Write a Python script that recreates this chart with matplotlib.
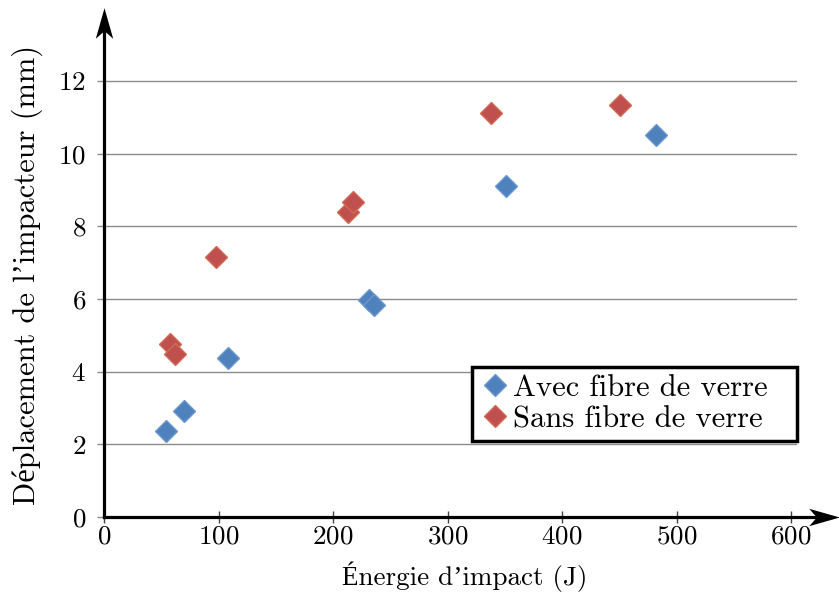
import matplotlib
matplotlib.use('Agg')
import matplotlib.pyplot as plt
from matplotlib.path import Path

avec_x = [54, 70, 108, 231, 236, 351, 482]
avec_y = [2.37, 2.92, 4.38, 5.97, 5.84, 9.11, 10.51]
sans_x = [58, 62, 98, 213, 217, 338, 451]
sans_y = [4.76, 4.49, 7.16, 8.39, 8.67, 11.12, 11.34]

x_ticks = [0, 100, 200, 300, 400, 500, 600]
y_ticks = [0, 2, 4, 6, 8, 10, 12]

plt.rcParams['font.family'] = ['cmr10', 'Liberation Serif', 'DejaVu Serif']
plt.rcParams['axes.formatter.use_mathtext'] = True

fig = plt.figure(figsize=(8.39, 5.97), dpi=100)
ax = fig.add_axes([0.124, 0.134, 0.826, 0.8216])

ax.set_xlim(0, 605.2)
ax.set_ylim(0, 13.5)

for y in y_ticks[1:]:
    ax.axhline(y, color='#8c8c8c', lw=1, zorder=1)

blue = '#4f81bd'
red = '#c0504d'
ax.plot(avec_x, avec_y, 'D', ms=11, color=blue, mec='#6d98cf', mew=1,
        label='Avec fibre de verre', zorder=3)
ax.plot(sans_x, sans_y, 'D', ms=11, color=red, mec='#d06a55', mew=1,
        label='Sans fibre de verre', zorder=3)

for s in ax.spines.values():
    s.set_visible(False)

# axes drawn as arrows with a stealth-like head
up_head = Path([(0, 1), (-0.57, -1), (0, -0.5), (0.57, -1), (0, 1)],
               [Path.MOVETO, Path.LINETO, Path.LINETO, Path.LINETO, Path.CLOSEPOLY])
right_head = Path([(1, 0), (-1, 0.57), (-0.5, 0), (-1, -0.57), (1, 0)],
                  [Path.MOVETO, Path.LINETO, Path.LINETO, Path.LINETO, Path.CLOSEPOLY])
ax.plot([0, 0], [0, 13.6], color='k', lw=2.3, clip_on=False, zorder=4,
        solid_capstyle='projecting')
ax.plot([0, 629], [0, 0], color='k', lw=2.3, clip_on=False, zorder=4,
        solid_capstyle='projecting')
ax.plot([0], [13.6], marker=up_head, ms=22, color='k', mew=0, clip_on=False, zorder=5)
ax.plot([629], [0], marker=right_head, ms=22, color='k', mew=0, clip_on=False, zorder=5)

ax.set_xticks(x_ticks)
ax.set_yticks(y_ticks)
ax.tick_params(axis='x', direction='inout', length=9, width=1, color='#444444',
               labelsize=19.5, pad=1)
ax.tick_params(axis='y', direction='out', length=5, width=1, color='#8c8c8c',
               labelsize=19.5, pad=8)

ax.set_xlabel("Énergie d’impact (J)", fontsize=19.5, labelpad=0)
ax.xaxis.set_label_coords(0.521, -0.09)
ax.set_ylabel("Déplacement de l’impacteur (mm)", fontsize=22)
ax.yaxis.set_label_coords(-0.088, 0.493)

leg = ax.legend(loc='upper left', bbox_to_anchor=(0.531, 0.155, 0.469, 0.151),
                mode='expand', fontsize=22, frameon=True, fancybox=False,
                framealpha=1, handletextpad=0.1, handlelength=1.0,
                borderpad=0.25, labelspacing=0.12, borderaxespad=0)
leg.get_frame().set_edgecolor('k')
leg.get_frame().set_linewidth(2.5)

fig.savefig('out.png', dpi=100)
